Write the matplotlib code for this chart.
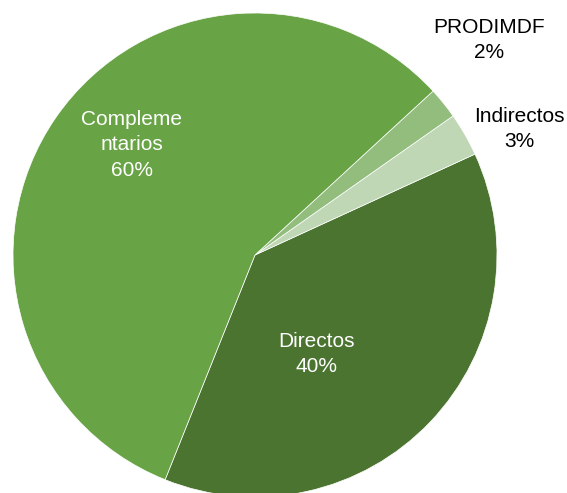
import matplotlib.pyplot as plt

# slice shares (angles), and the printed labels
names = ["Directos", "Indirectos", "PRODIMDF", "Complementarios"]
shares = [37.9, 2.9, 2.1, 57.1]
shown = ["Directos\n40%", "Indirectos\n3%", "PRODIMDF\n2%", "Compleme\nntarios\n60%"]
colors = ["#4A7430", "#BFD7B5", "#92BD7D", "#68A345"]

W, H = 567, 493
fig = plt.figure(figsize=(W / 100, H / 100), dpi=100)
ax = fig.add_axes([0, 0, 1, 1])

cx, cy, r = 255, H - 255, 242
ax.pie(shares, colors=colors, startangle=-111.8, counterclock=True,
       center=(cx, cy), radius=r, frame=True,
       wedgeprops=dict(edgecolor="white", linewidth=0.5))
ax.set_xlim(0, W)
ax.set_ylim(0, H)
ax.set_aspect("equal")
ax.axis("off")

font = dict(family=["Liberation Sans", "DejaVu Sans"],
            fontsize=15, ha="center", va="center", linespacing=1.45)
# label spots in pixel coords of the picture (x, y from top)
spots = [(317, 354, "white"), (519, 129, "black"), (489, 40, "black"), (132, 145, "white")]
for txt, (x, y, c) in zip(shown, spots):
    ax.text(x, H - y, txt, color=c, **font)

fig.savefig("out.png", dpi=100)
